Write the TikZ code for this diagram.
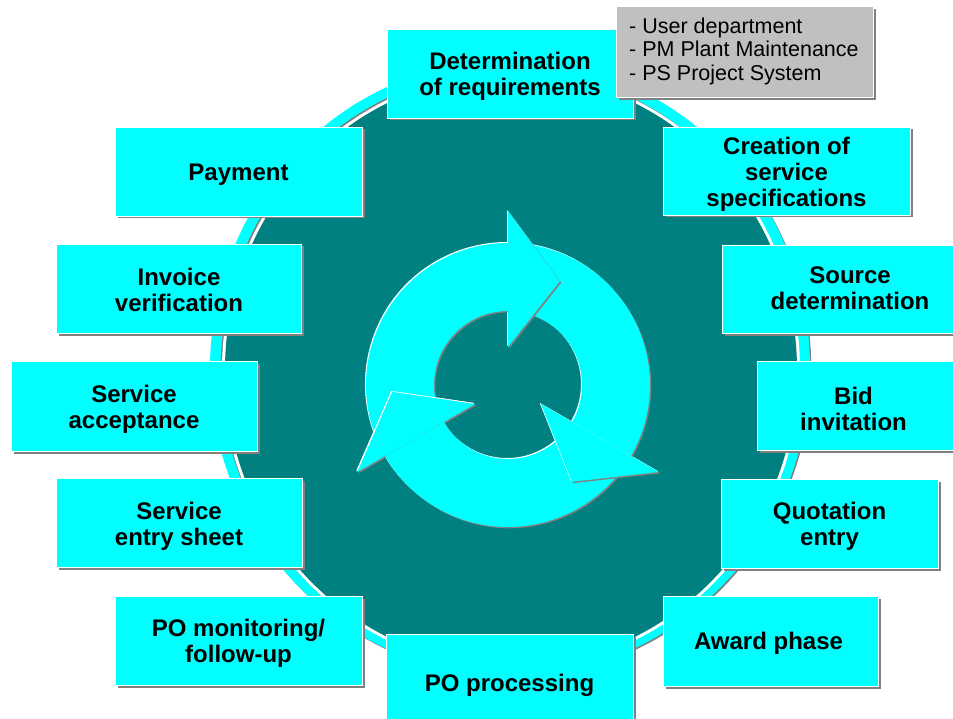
\documentclass[tikz,border=0pt]{standalone}
\usepackage{fontspec}
\setmainfont{Liberation Sans}
\usetikzlibrary{shadows}

\definecolor{ringcyan}{HTML}{00FFFF}
\definecolor{tealfill}{HTML}{008080}
\definecolor{edgegrey}{HTML}{808080}
\definecolor{notegrey}{HTML}{C0C0C0}

\tikzset{
  stepbox/.style={rectangle, inner sep=0pt, fill=ringcyan, draw=white, line width=0.8pt,
    general shadow={fill=edgegrey, shadow xshift=2.5pt, shadow yshift=-2.5pt}},
  steptext/.style={inner sep=0pt, align=center, font=\fontsize{24}{26}\selectfont\bfseries},
  notebox/.style={rectangle, inner sep=0pt, fill=notegrey, draw=white, line width=0.8pt,
    general shadow={fill=edgegrey, shadow xshift=3pt, shadow yshift=-3pt}},
  notetext/.style={inner sep=0pt, align=left, font=\fontsize{21.5}{23.5}\selectfont},
  % one curved arrow of the cycle: ring body ending in a head at angle #1
  ringarrow/.style={insert path={
    ({#1+118}:142) arc[start angle={#1+118}, end angle={#1}, radius=142]
    -- ({#1}:174) -- ({#1-26.6}:116) -- ({#1}:38) -- ({#1}:74)
    arc[start angle={#1}, end angle={#1+118}, radius=74] -- cycle}},
  arrowhead/.style={insert path={({#1}:174) -- ({#1-26.6}:116) -- ({#1}:38) -- cycle}},
}

\begin{document}
\begin{tikzpicture}[x=1pt,y=-1pt]
\useasboundingbox (0,0) rectangle (953,719);
\fill[white] (0,0) rectangle (953,719);

% oval background with its light rim
\fill[edgegrey] (511.3,369.3) ellipse[x radius=300pt, y radius=308pt];
\fill[ringcyan] (510,368) ellipse[x radius=300pt, y radius=308pt];
\fill[edgegrey] (509.7,368.7) ellipse[x radius=289pt, y radius=299pt];
\fill[white] (511,370) ellipse[x radius=289pt, y radius=299pt];
\fill[tealfill] (511,370) ellipse[x radius=286pt, y radius=296pt];

% circular arrows in the middle
\begin{scope}[shift={(508,385)}, x=1pt, y=1pt]
  \foreach \b in {90,-30,210} \fill[white, shift={(-1,1)}] [ringarrow=\b];
  \foreach \b in {90,-30,210} \fill[edgegrey, shift={(1.3,-1.3)}] [ringarrow=\b];
  \foreach \b in {90,-30,210} \fill[ringcyan] [ringarrow=\b];
  \foreach \b in {90,-30,210} {
    \begin{scope}
      \clip (0,0) -- ({\b}:320) arc[start angle={\b}, end angle={\b-30}, radius=320] -- cycle;
      \fill[white, shift={(-1,1)}] [arrowhead=\b];
      \fill[edgegrey, shift={(1.3,-1.3)}] [arrowhead=\b];
      \fill[ringcyan] [arrowhead=\b];
    \end{scope}
  }
\end{scope}

% process steps
\node[stepbox, minimum width=246pt, minimum height=89pt] (det) at (510,73.5) {};
\node[stepbox, minimum width=247pt, minimum height=89pt] (pay) at (238.5,171.5) {};
\node[stepbox, minimum width=247pt, minimum height=88pt] (spec) at (786.5,171) {};
\node[stepbox, minimum width=245pt, minimum height=89pt] (inv) at (179,288.5) {};
\node[stepbox, minimum width=256pt, minimum height=88pt] (src) at (850,289) {};
\node[stepbox, minimum width=246pt, minimum height=90pt] (acc) at (134,406) {};
\node[stepbox, minimum width=199pt, minimum height=89pt] (bid) at (856.5,405.5) {};
\node[stepbox, minimum width=246pt, minimum height=89pt] (ses) at (179,522.5) {};
\node[stepbox, minimum width=217pt, minimum height=89pt] (quo) at (829.5,523.5) {};
\node[stepbox, minimum width=247pt, minimum height=89pt] (mon) at (238.5,640.5) {};
\node[stepbox, minimum width=215pt, minimum height=90pt] (awd) at (770.5,641) {};
\node[stepbox, minimum width=247pt, minimum height=100pt] (poc) at (509.5,684) {};

\node[steptext] (detl) at ([yshift=-3pt]det.center) {Determination\\of requirements};
\node[steptext] (payl) at ([yshift=-3pt]pay.center) {Payment};
\node[steptext] (specl) at ([yshift=-3.5pt]spec.center) {Creation of\\service\\specifications};
\node[steptext] (invl) at ([yshift=-1.5pt]inv.center) {Invoice\\verification};
\node[steptext] (srcl) at ([yshift=1pt]src.center) {Source\\determination};
\node[steptext] (accl) at ([yshift=-3.5pt]acc.center) {Service\\acceptance};
\node[steptext] (bidl) at ([xshift=-3pt, yshift=-3pt]bid.center) {Bid\\invitation};
\node[steptext] (sesl) at ([yshift=-4pt]ses.center) {Service\\entry sheet};
\node[steptext] (quol) at ([yshift=-3pt]quo.center) {Quotation\\entry};
\node[steptext] (monl) at ([yshift=-3pt]mon.center) {PO monitoring/\\follow-up};
\node[steptext] (awdl) at ([xshift=-2pt, yshift=-2pt]awd.center) {Award phase};
\node[steptext] (pocl) at ([yshift=-1.5pt]poc.center) {PO processing};

% note on who determines requirements
\node[notebox, minimum width=257pt, minimum height=91pt] (note) at (744.5,51.5) {};
\node[notetext, anchor=west] (notetxt) at (629,51) {- User department\\- PM Plant Maintenance\\- PS Project System};
\end{tikzpicture}
\end{document}
